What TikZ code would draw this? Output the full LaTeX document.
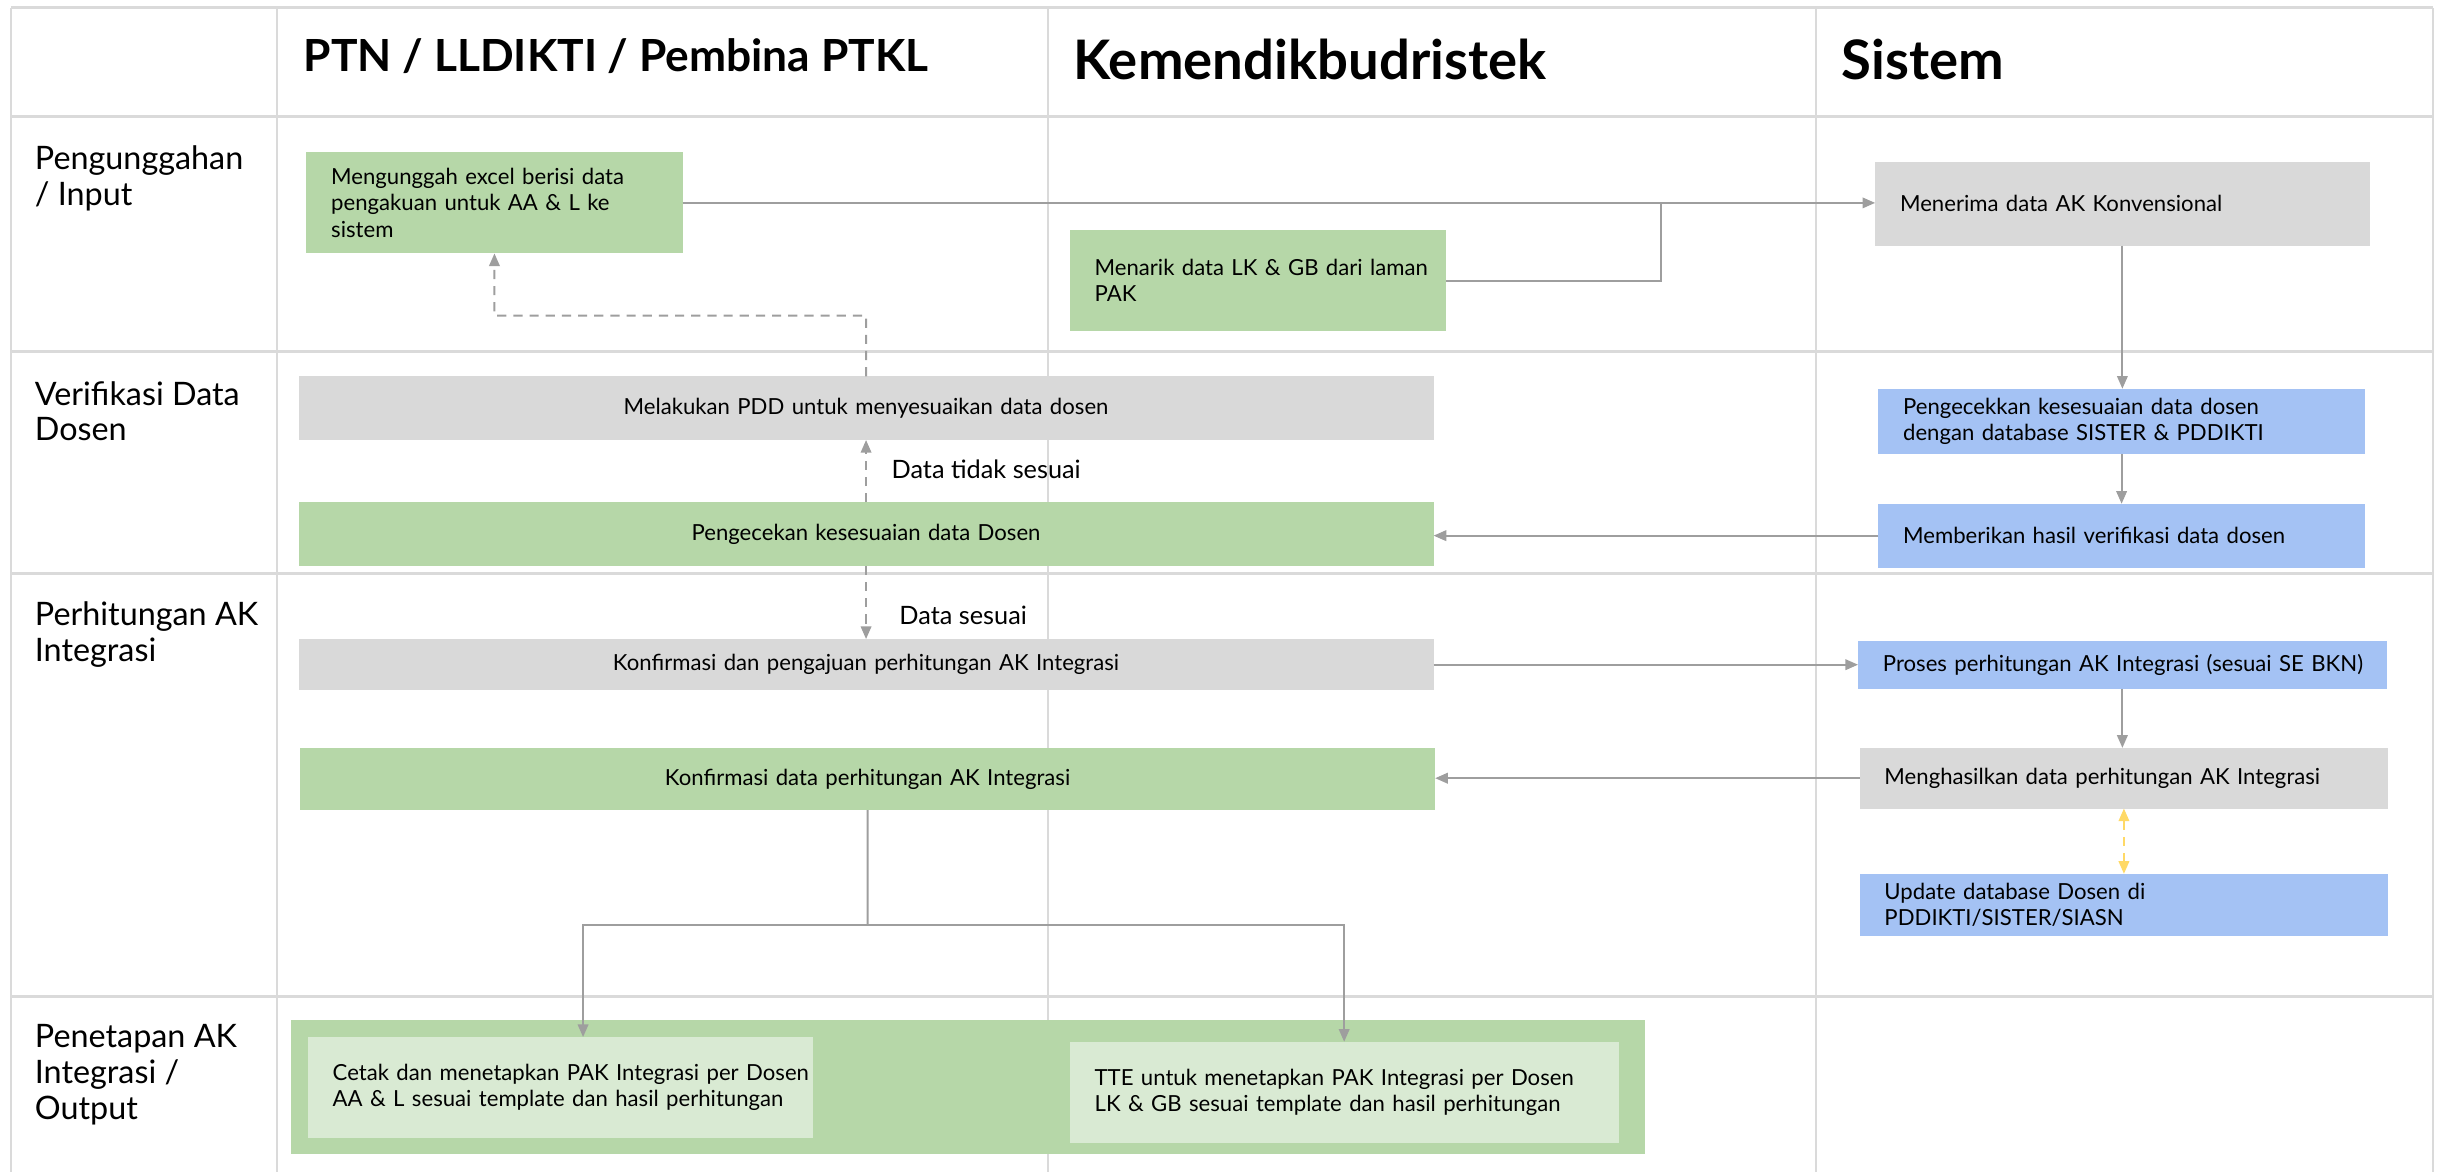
\documentclass[tikz,border=0pt]{standalone}
\usepackage{fontspec}
\setmainfont{Lato}
\usetikzlibrary{arrows.meta}
\definecolor{cgreen}{HTML}{B6D7A8}
\definecolor{clgreen}{HTML}{D9EAD3}
\definecolor{cgray}{HTML}{D9D9D9}
\definecolor{cblue}{HTML}{A4C2F4}
\definecolor{cgrid}{HTML}{DADADA}
\definecolor{cline}{HTML}{9E9E9E}
\definecolor{cyel}{HTML}{FFD966}
\newcommand\bodyfont{\fontsize{6.3}{7.5}\selectfont}
\newcommand\labfont{\fontsize{9.2}{10.2}\selectfont}
\newcommand\mkbox[8]{%
 \pgfmathsetmacro\bw{(#4-#2-32)*0.015549}%
 \pgfmathsetmacro\bh{(#5-#3)*0.015549}%
 \node[anchor=north west, fill=#6, inner xsep=0.2488cm, inner ysep=0pt, outer sep=0pt,
   text width=\bw cm, minimum height=\bh cm, align=#7, font=\bodyfont] (#1) at (#2,#3) {#8};}
\tikzset{
  gridh/.style={draw=cgrid, line width=0.8pt},
  gridv/.style={draw=cgrid, line width=0.55pt},
  ln/.style={draw=cline, line width=0.55pt},
  arr/.style={ln, -{Triangle[length=3.6pt,width=3pt]}},
  darr/.style={arr, dashed, dash pattern=on 2.6pt off 2pt},
  yarr/.style={draw=cyel, line width=0.55pt, dash pattern=on 2.6pt off 2pt, {Triangle[length=3.6pt,width=3pt]}-{Triangle[length=3.6pt,width=3pt]}},
  lab/.style={anchor=west, align=left, font=\labfont, inner sep=0pt},
  head/.style={anchor=base west, inner sep=0pt},
  note/.style={anchor=west, font=\fontsize{7.2}{8}\selectfont, inner sep=0pt}
}
\begin{document}
\begin{tikzpicture}[x=0.015549cm, y=-0.015549cm]
\useasboundingbox (0,0) rectangle (1568,754);
% grid
\draw[gridh] (7,5) -- (1565,5);
\foreach \yy in {75,226,369,641} \draw[gridh] (7,\yy) -- (1565,\yy);
\foreach \xx in {7,178,674,1168,1565} \draw[gridv] (\xx,5) -- (\xx,754);
% headers
\node[head, font=\fontsize{12.6}{14}\selectfont\bfseries] (h1) at (195,46) {PTN / LLDIKTI / Pembina PTKL};
\node[head, font=\fontsize{15.5}{17}\selectfont\bfseries] (h2) at (690,51) {Kemendikbudristek};
\node[head, font=\fontsize{15.5}{17}\selectfont\bfseries] (h3) at (1184,51) {Sistem};
% row labels
\node[lab] (r1) at (22,114.5) {Pengunggahan\\/ Input};
\node[lab] (r2) at (22,264.5) {Verifikasi Data\\Dosen};
\node[lab] (r3) at (22,408) {Perhitungan AK\\Integrasi};
\node[lab] (r4) at (22,691) {Penetapan AK\\Integrasi /\\Output};
% boxes
\mkbox{b1}{197}{98}{439}{163}{cgreen}{left}{\mbox{Mengunggah excel berisi data}\\\mbox{pengakuan untuk AA \& L ke}\\sistem}
\mkbox{b2}{688}{148}{930}{213}{cgreen}{left}{\mbox{Menarik data LK \& GB dari laman}\\PAK}
\mkbox{b3}{1206}{104}{1524}{158}{cgray}{left}{\mbox{Menerima data AK Konvensional}}
\mkbox{b4}{192}{242}{922}{283}{cgray}{center}{Melakukan PDD untuk menyesuaikan data dosen}
\mkbox{b5}{1208}{250}{1521}{292}{cblue}{left}{\mbox{Pengecekkan kesesuaian data dosen}\\\mbox{dengan database SISTER \& PDDIKTI}}
\mkbox{b6}{192}{323}{922}{364}{cgreen}{center}{Pengecekan kesesuaian data Dosen}
\mkbox{b7}{1208}{324}{1521}{365}{cblue}{left}{\mbox{Memberikan hasil verifikasi data dosen}}
\mkbox{b8}{192}{411}{922}{444}{cgray}{center}{Konfirmasi dan pengajuan perhitungan AK Integrasi}
\mkbox{b9}{1195}{412}{1535}{443}{cblue}{left}{\mbox{Proses perhitungan AK Integrasi (sesuai SE BKN)}}
\mkbox{b10}{193}{481}{923}{521}{cgreen}{center}{Konfirmasi data perhitungan AK Integrasi}
\mkbox{b11}{1196}{481}{1536}{520}{cgray}{left}{\mbox{Menghasilkan data perhitungan AK Integrasi}}
\mkbox{b12}{1196}{562}{1536}{602}{cblue}{left}{\mbox{Update database Dosen di}\\\mbox{PDDIKTI/SISTER/SIASN}}
\mkbox{b13}{187}{656}{1058}{742}{cgreen}{left}{}
\mkbox{b14}{198}{667}{523}{732}{clgreen}{left}{\mbox{Cetak dan menetapkan PAK Integrasi per Dosen}\\\mbox{AA \& L sesuai template dan hasil perhitungan}}
\mkbox{b15}{688}{670}{1041}{735}{clgreen}{left}{\mbox{TTE untuk menetapkan PAK Integrasi per Dosen}\\\mbox{LK \& GB sesuai template dan hasil perhitungan}}
% connectors
\coordinate (j1) at (1068,131);
\draw[arr] (b1.east) -- (b1.east -| b3.west);
\draw[ln] (b2.east) -| (j1);
\draw[arr] (b3.south) -- (b3.south |- b5.north);
\draw[arr] (b5.south) -- (b5.south |- b7.north);
\draw[arr] (b7.west) -- (b7.west -| b6.east);
\draw[darr] (b6.north) -- (b4.south);
\node[note] (n1) at (573,302) {Data tidak sesuai};
\coordinate (g1) at (318,203);
\draw[darr] (b4.north) |- (g1) -- (b1.south);
\draw[darr] (b6.south) -- (b8.north);
\node[note] (n2) at (578,396) {Data sesuai};
\draw[arr] (b8.east) -- (b8.east -| b9.west);
\draw[arr] (b9.south) -- (b9.south |- b11.north);
\draw[arr] (b11.west) -- (b11.west -| b10.east);
\draw[yarr] (b11.south) -- (b11.south |- b12.north);
\coordinate (m1) at (558,595);
\coordinate (t1) at (375,667);
\draw[ln] (b10.south) -- (m1);
\draw[arr] (m1) -| (t1);
\draw[arr] (m1) -| (b15.north);
\end{tikzpicture}
\end{document}
